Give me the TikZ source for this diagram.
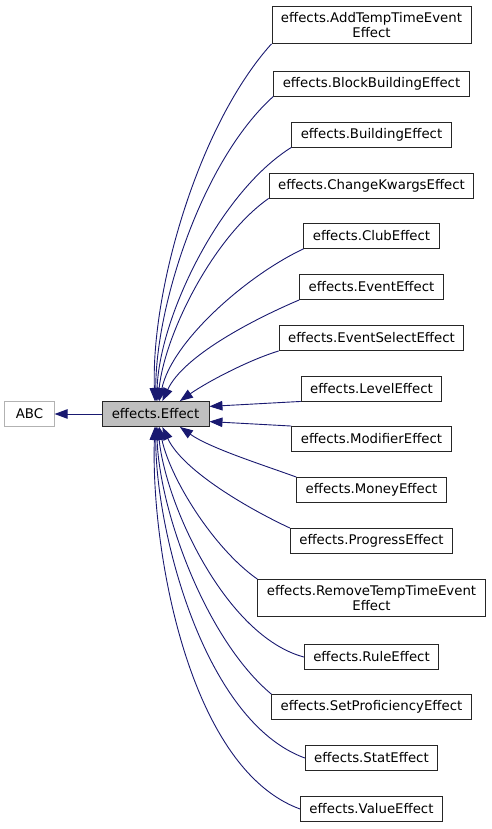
\documentclass[tikz,border=0pt]{standalone}
\usepackage{fontspec}
\setmainfont{DejaVu Sans}
\usetikzlibrary{arrows.meta}
\definecolor{edgeblue}{HTML}{191970}
\definecolor{basegray}{HTML}{BFBFBF}

\begin{document}
\begin{tikzpicture}[x=1pt,y=1pt,
  every node/.style={font=\fontsize{13.3}{14.5}\selectfont},
  cls/.style={draw=black!85,line width=0.9pt,fill=white,inner xsep=9pt,inner ysep=6pt,minimum height=25pt,align=center},
  edge/.style={draw=edgeblue,line width=0.9pt,-{Triangle[length=13pt,width=9.5pt]}}]
  \useasboundingbox (0,0) rectangle (492,829);
  \node[cls,draw=black!30,inner xsep=11pt] (abc) at (29.5,415) {ABC};
  \node[cls,fill=basegray,minimum width=107pt] (effect) at (155.5,415) {effects.Effect};
  \draw[edge] (effect) -- (abc);
  % derived classes above the base class
  \foreach \n/\txt/\y/\ang/\o/\i in {addtemp/{effects.AddTempTimeEvent\\Effect}/804/93/228/92,
      block/effects.BlockBuildingEffect/745.5/89/222/90,
      building/effects.BuildingEffect/694.5/85/212/88,
      kwargs/effects.ChangeKwargsEffect/643.5/80/215/84,
      club/effects.ClubEffect/593/74/205/78,
      event/effects.EventEffect/542/62/203/65,
      select/effects.EventSelectEffect/491/28/197/35}{
    \node[cls] (\n) at (371.5,\y) {\txt};
    \draw[edge] (\n.south west) to[out=\o,in=\i,looseness=0.75] (effect.\ang);
  }
  % the two next to it
  \node[cls] (level) at (371.5,440.5) {effects.LevelEffect};
  \node[cls] (modifier) at (371.5,390) {effects.ModifierEffect};
  \draw[edge] (level.south west) -- (effect.8);
  \draw[edge] (modifier.north west) -- (effect.352);
  % derived classes below the base class
  \foreach \n/\txt/\y/\s/\ang/\o/\i in {money/effects.MoneyEffect/339/north west/332/160/325,
      progress/effects.ProgressEffect/288/north west/298/155/295,
      remove/{effects.RemoveTempTimeEvent\\Effect}/231/north west/286/145/282,
      rule/effects.RuleEffect/172/west/280/165/276,
      setprof/effects.SetProficiencyEffect/122/north west/275/140/272,
      stat/effects.StatEffect/71/west/271/160/270,
      value/effects.ValueEffect/20/west/267/160/268}{
    \node[cls] (\n) at (371.5,\y) {\txt};
    \draw[edge] (\n.\s) to[out=\o,in=\i,looseness=0.75] (effect.\ang);
  }
\end{tikzpicture}
\end{document}
